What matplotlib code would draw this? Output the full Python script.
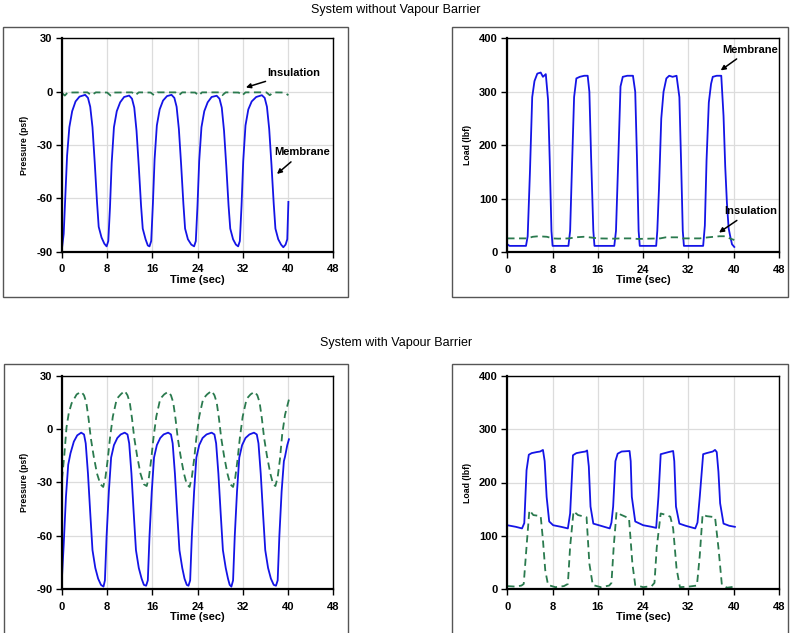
import matplotlib
matplotlib.use("Agg")
import matplotlib.pyplot as plt
from matplotlib.patches import Rectangle

plt.rcParams["font.family"] = ["Liberation Sans", "DejaVu Sans"]
plt.rcParams["axes.unicode_minus"] = False

# --- System without vapour barrier: pressure (psf) ---
t_pm1 = [0, 0.3, 0.6, 0.9, 1.3, 1.8, 2.4, 3.1, 4.1, 4.6, 5.0, 5.4, 5.8, 6.2, 6.5, 7.0, 7.5, 7.9,
         8.2, 8.5, 8.8, 9.2, 9.7, 10.3, 11.0, 11.9, 12.4, 12.8, 13.2, 13.6, 14.0, 14.3, 14.8, 15.2, 15.5,
         15.8, 16.1, 16.4, 16.8, 17.3, 17.9, 18.6, 19.4, 19.9, 20.3, 20.7, 21.1, 21.5, 21.8, 22.3, 22.9, 23.4,
         23.7, 24.0, 24.3, 24.7, 25.2, 25.8, 26.5, 27.4, 27.9, 28.3, 28.7, 29.1, 29.5, 29.8, 30.3, 30.8, 31.2,
         31.5, 31.8, 32.1, 32.5, 33.0, 33.6, 34.4, 35.4, 35.9, 36.3, 36.7, 37.1, 37.5, 37.8, 38.3, 38.8, 39.2,
         39.6, 39.9, 40.1]
p_mem1 = [-88, -80, -58, -36, -20, -11, -5.5, -2.8, -1.8, -3.5, -8.5, -20, -40, -62, -76, -82, -85.5, -87,
          -84, -65, -40, -20, -11, -6, -3, -2.2, -4, -9, -22, -42, -64, -77, -83, -86.5, -87,
          -84, -63, -38, -19, -10, -5, -2.5, -1.8, -3.5, -8.5, -21, -41, -63, -77, -83, -86, -87,
          -84, -64, -39, -20, -11, -6, -3, -2.3, -4, -9, -22, -42, -64, -77, -83, -86, -87,
          -84, -64, -39, -19, -10, -5.5, -3, -2, -3.5, -8.5, -21, -41, -63, -77, -83, -86, -87.5,
          -86, -83, -62]

t_pi1 = [0, 0.5, 1.0, 4.5, 5.2, 6.0, 8.0, 8.6, 9.2, 12.4, 13.0, 13.6, 15.7, 16.3, 16.9, 20.1, 20.7, 21.3,
         23.6, 24.2, 24.8, 27.8, 28.4, 29.0, 31.3, 31.9, 32.5, 36.2, 36.8, 37.4, 39.4, 40.1]
p_ins1 = [-0.8, -2.2, -0.5, -0.4, -2.0, -0.4, -0.5, -2.2, -0.5, -0.4, -2.0, -0.4, -0.5, -2.0, -0.4,
          -0.4, -2.0, -0.4, -0.5, -2.2, -0.4, -0.4, -2.0, -0.4, -0.5, -2.2, -0.4, -0.4, -2.0, -0.4, -0.5, -2.0]

# --- System without vapour barrier: load (lbf) ---
t_lm1 = [0, 0.4, 3.3, 3.6, 4.0, 4.4, 4.8, 5.3, 5.9, 6.3, 6.8, 7.2, 7.5, 7.8, 8.0,
         10.8, 11.1, 11.4, 11.8, 12.2, 12.8, 13.6, 14.2, 14.5, 14.8, 15.2, 15.4,
         18.9, 19.2, 19.6, 20.0, 20.4, 21.2, 22.2, 22.6, 22.9, 23.2, 23.4,
         26.3, 26.5, 26.8, 27.2, 27.6, 28.1, 28.6, 29.2, 29.9, 30.4, 30.7, 31.0, 31.2,
         34.6, 34.9, 35.2, 35.6, 36.0, 36.3, 37.0, 37.8, 38.2, 38.5, 38.8, 39.1, 39.4, 39.7, 40.1]
l_mem1 = [15, 12, 12, 30, 150, 290, 320, 334, 336, 328, 333, 285, 170, 40, 12,
          12, 40, 150, 290, 325, 328, 330, 330, 300, 180, 40, 12,
          12, 40, 172, 310, 328, 330, 330, 300, 180, 40, 12,
          12, 40, 120, 250, 300, 325, 330, 328, 330, 290, 170, 40, 12,
          12, 50, 172, 280, 315, 328, 330, 330, 255, 160, 92, 45, 29, 15, 10]

t_li1 = [0, 3.5, 4.5, 5.5, 7.0, 8.0, 9.0, 11.0, 12.0, 13.5, 14.5, 16, 19, 20, 22, 23, 25, 27, 28,
         30, 31, 34, 35.5, 37.5, 38.5, 39.3, 40.1]
l_ins1 = [26, 26, 29, 30, 29, 26, 25.5, 26, 28, 29, 28, 26, 25.5, 26, 26, 25, 25.5, 26, 28,
          28, 26, 26, 28, 30, 30, 26, 23]

# --- System with vapour barrier: pressure (psf) ---
t_pm2 = [0, 0.3, 0.7, 1.1, 1.5, 2.1, 2.7, 3.4, 3.9, 4.2, 4.6, 5.0, 5.4, 5.9, 6.4, 6.9, 7.35, 7.6,
         7.9, 8.3, 8.7, 9.2, 9.8, 10.4, 11.1, 11.6, 11.9, 12.3, 12.7, 13.1, 13.6, 14.1, 14.5, 14.9, 15.2,
         15.5, 15.9, 16.3, 16.8, 17.4, 18.0, 18.8, 19.3, 19.6, 20.0, 20.4, 20.8, 21.3, 21.7, 22.1, 22.4, 22.7,
         23.0, 23.4, 23.8, 24.3, 24.9, 25.6, 26.5, 27.0, 27.3, 27.7, 28.1, 28.5, 29.0, 29.4, 29.7, 30.0, 30.3,
         30.6, 31.0, 31.4, 31.9, 32.5, 33.2, 34.0, 34.5, 34.8, 35.2, 35.6, 36.0, 36.5, 37.0, 37.5, 37.9, 38.2,
         38.5, 38.9, 39.3, 39.5, 39.9, 40.2]
p_mem2 = [-83, -65, -38, -20, -13.6, -7, -3.5, -2, -3, -8, -25, -47, -68, -78, -84, -87.5, -88.5, -85,
          -60, -35, -16, -9, -5, -3, -2, -3, -8, -25, -47, -68, -78, -84, -87.5, -88, -85,
          -60, -35, -16, -9, -5, -3, -2, -3, -8, -25, -47, -68, -78, -84, -87.5, -88, -85,
          -60, -35, -16, -9, -5, -3, -2, -3, -8, -25, -47, -68, -78, -84, -87.5, -88.5, -85,
          -60, -35, -16, -9, -5, -3, -2, -3, -8, -25, -47, -68, -78, -84, -87.5, -88, -85,
          -60, -35, -18, -15.5, -9, -5.7]

t_pi2 = [0, 0.4, 0.8, 1.2, 1.7, 2.6, 3.4, 3.9, 4.3, 4.7, 5.1, 5.6, 6.2, 6.8, 7.3,
         7.7, 8.1, 8.5, 9.0, 9.7, 10.4, 11.1, 11.6, 12.0, 12.4, 12.8, 13.3, 13.9, 14.5, 15.0,
         15.4, 15.8, 16.2, 16.7, 17.4, 18.1, 18.8, 19.3, 19.7, 20.1, 20.5, 21.0, 21.6, 22.1, 22.6,
         23.0, 23.4, 23.8, 24.3, 25.0, 25.7, 26.5, 27.0, 27.4, 27.8, 28.2, 28.7, 29.3, 29.8, 30.3,
         30.7, 31.1, 31.5, 32.0, 32.7, 33.4, 34.1, 34.6, 35.0, 35.4, 35.8, 36.3, 36.9, 37.4, 37.8,
         38.2, 38.6, 39.0, 39.5, 40.2]
p_ins2 = [-28, -15, 1, 9, 14.5, 19.5, 21, 19, 15, 6, -5, -15, -25, -31, -32.5,
          -27, -17, -5, 7, 17, 19.5, 21.5, 19, 15, 6, -5, -15, -25, -31, -32,
          -27, -17, -5, 7, 17, 19.5, 21, 19, 15, 6, -5, -15, -25, -31, -32.5,
          -27, -17, -5, 7, 17, 19.5, 21.5, 19, 15, 6, -5, -15, -25, -31, -32.5,
          -27, -17, -5, 7, 17, 19.5, 21, 19, 15, 6, -5, -15, -25, -31, -32,
          -27, -17, -3, 8, 16.7]

# --- System with vapour barrier: load (lbf) ---
t_lm2 = [0, 1.5, 2.6, 3.0, 3.4, 3.8, 4.3, 5.2, 5.8, 6.3, 6.6, 6.95, 7.4, 8.1, 9.5, 10.7,
         11.1, 11.6, 12.2, 13.2, 13.8, 14.1, 14.4, 14.7, 15.2, 16.5, 18.1,
         18.4, 18.7, 19.1, 19.5, 20.2, 21.6, 21.8, 22.0, 22.6, 24.0, 25.5, 26.3,
         26.7, 27.1, 27.8, 28.5, 29.3, 29.5, 29.8, 30.4, 31.5, 33.2,
         33.6, 34.0, 34.6, 35.2, 36.3, 36.7, 37.0, 37.3, 37.6, 38.2, 39.2, 40.2]
l_mem2 = [120, 117, 114, 124, 223, 252, 255, 257, 258, 261, 240, 173, 127, 120, 117, 114,
          142, 251, 255, 257, 258, 260, 230, 155, 123, 119, 114,
          125, 155, 240, 254, 258, 259, 240, 173, 127, 120, 117, 115,
          173, 253, 255, 257, 259, 240, 155, 123, 119, 114,
          125, 173, 253, 255, 258, 261, 257, 220, 161, 123, 119, 117]

t_li2 = [0, 1.5, 2.5, 2.9, 3.4, 3.9, 4.6, 5.9, 6.3, 6.7, 7.2, 8.5, 10.0, 10.7,
         11.1, 11.7, 12.5, 14.0, 14.5, 15.1, 16.5, 18.0, 18.4,
         18.8, 19.3, 20.0, 21.5, 22.1, 22.6, 24.0, 25.5, 26.0,
         26.4, 27.1, 27.8, 28.8, 29.3, 29.9, 30.5, 32.0, 33.5,
         34.0, 34.5, 35.2, 36.7, 37.3, 37.9, 38.8, 40.2]
l_ins2 = [6, 5, 7, 10, 80, 148, 139, 137, 92, 36, 8, 4, 6, 10,
          80, 146, 139, 135, 48, 8, 4, 7, 12,
          80, 145, 140, 133, 48, 8, 4, 6, 12,
          78, 142, 140, 136, 114, 39, 4, 5, 7,
          63, 140, 137, 135, 78, 9, 3, 5]

xticks = [0, 8, 16, 24, 32, 40, 48]
p_ticks = [-90, -60, -30, 0, 30]
l_ticks = [0, 100, 200, 300, 400]

BLUE = "#1414e6"
GREEN = "#2a7a4e"

W, H = 792, 633
fig = plt.figure(figsize=(W / 100, H / 100), dpi=100)


def px_axes(x0, y0, x1, y1):
    # pixel box (top-left origin) -> figure fraction axes
    return fig.add_axes([x0 / W, 1 - y1 / H, (x1 - x0) / W, (y1 - y0) / H])


def frame(x0, y0, x1, y1):
    fig.patches.append(Rectangle((x0 / W, 1 - y1 / H), (x1 - x0) / W, (y1 - y0) / H,
                                 transform=fig.transFigure, fill=False,
                                 edgecolor="#555555", linewidth=1.0))


def style(ax, yticks, ylabel):
    ax.set_xlim(0, 48)
    ax.set_xticks(xticks)
    ax.set_ylim(yticks[0], yticks[-1])
    ax.set_yticks(yticks)
    ax.grid(True, color="#dcdcdc", linewidth=0.9)
    ax.set_axisbelow(True)
    for s in ["left", "bottom"]:
        ax.spines[s].set_linewidth(1.6)
    for s in ["top", "right"]:
        ax.spines[s].set_linewidth(1.0)
    ax.tick_params(direction="out", length=4, width=1, labelsize=8, pad=3)
    ax.tick_params(axis="x", pad=5)
    for lab in ax.get_xticklabels() + ax.get_yticklabels():
        lab.set_fontweight("bold")
    ax.set_xlabel("Time (sec)", fontsize=8, fontweight="bold", labelpad=0.5)
    ax.set_ylabel(ylabel, fontsize=6.3, fontweight="bold", labelpad=5)


frame(3, 27, 348, 297)
frame(452, 27, 788, 297)
frame(4, 364, 348, 640)
frame(452, 364, 788, 640)

fig.text(0.5, 1 - 10 / H, "System without Vapour Barrier", ha="center", va="center", fontsize=9)
fig.text(0.5, 1 - 343 / H, "System with Vapour Barrier", ha="center", va="center", fontsize=9)

dash = (0, (4, 2.5))
arrow = dict(arrowstyle="-|>", color="black", lw=1.1, mutation_scale=7)
ann_font = dict(fontsize=8, fontweight="bold")

ax1 = px_axes(62, 38.3, 333, 251.7)
ax1.plot(t_pm1, p_mem1, color=BLUE, lw=1.3)
ax1.plot(t_pi1, p_ins1, color=GREEN, lw=1.3, linestyle=dash)
style(ax1, p_ticks, "Pressure (psf)")
ax1.annotate("Insulation", xy=(32.1, 1.9), xytext=(36.3, 10.6), va="center", ha="left",
             arrowprops=arrow, **ann_font)
ax1.annotate("Membrane", xy=(37.7, -47.3), xytext=(37.6, -34.1), va="center", ha="left",
             arrowprops=arrow, **ann_font)

ax2 = px_axes(507.3, 38.3, 779, 252.3)
ax2.plot(t_lm1, l_mem1, color=BLUE, lw=1.3)
ax2.plot(t_li1, l_ins1, color=GREEN, lw=1.3, linestyle=dash)
style(ax2, l_ticks, "Load (lbf)")
ax2.annotate("Membrane", xy=(37.3, 337), xytext=(37.9, 379), va="center", ha="left",
             arrowprops=arrow, **ann_font)
ax2.annotate("Insulation", xy=(37.0, 34), xytext=(38.3, 77), va="center", ha="left",
             arrowprops=arrow, **ann_font)

ax3 = px_axes(62, 375.7, 333, 589.3)
ax3.plot(t_pm2, p_mem2, color=BLUE, lw=1.3)
ax3.plot(t_pi2, p_ins2, color=GREEN, lw=1.3, linestyle=dash)
style(ax3, p_ticks, "Pressure (psf)")

ax4 = px_axes(507.3, 375.7, 779, 589.3)
ax4.plot(t_lm2, l_mem2, color=BLUE, lw=1.3)
ax4.plot(t_li2, l_ins2, color=GREEN, lw=1.3, linestyle=dash)
style(ax4, l_ticks, "Load (lbf)")

fig.savefig("out.png", dpi=100)
